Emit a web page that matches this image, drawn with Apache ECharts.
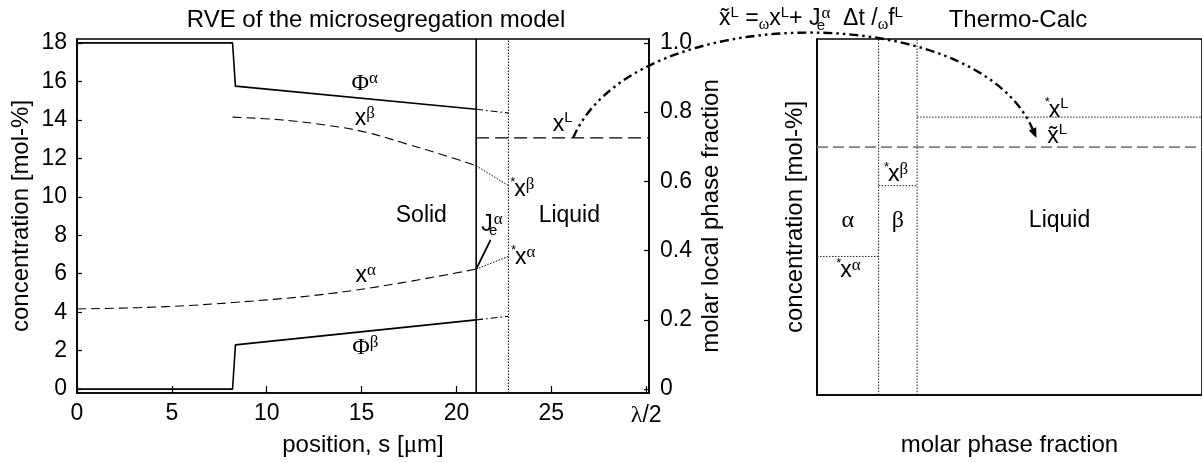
<!DOCTYPE html>
<html>
<head>
<meta charset="utf-8">
<script src="https://cdn.jsdelivr.net/npm/echarts@6/dist/echarts.min.js"></script>
<style>
  html, body { margin: 0; padding: 0; background: #fff; }
  #chart { width: 1202px; height: 463px; }
</style>
</head>
<body>
<div id="chart"></div>
<script>
// ---------- tick labels ----------
const positionTicks = [0, 5, 10, 15, 20, 25, 30];          // last tick is λ/2
const concentrationTicks = [0, 2, 4, 6, 8, 10, 12, 14, 16, 18];
const localFractionTicks = [0, 0.2, 0.4, 0.6, 0.8, 1.0];

// ---------- RVE of the microsegregation model: [position s in µm, concentration in mol-%] ----------
const positionMax = 30.15;               // half the dendrite arm spacing, λ/2
const concentrationRange = [-0.2, 18.2];
const fullScaleConcentration = 18;       // concentration that sits at local phase fraction 1.0
const solidLiquidInterface = 21.04;
const equilibriumPosition = 22.74;
const starXAlpha = 6.9;                  // *x^α
const starXBeta = 10.58;                 // *x^β
const starXLiquid = 14.14;               // *x^L
const xLiquid = 13.06;                   // x^L
const xLiquidTilde = 12.58;              // x̃^L

const phiAlpha = [[0, 18], [8.2, 18], [8.35, 15.75], [21.04, 14.55]];
const phiAlphaExtension = [[21.04, 14.55], [22.74, 14.35]];
const phiBeta = [[0, 0], [8.2, 0], [8.35, 2.3], [21.04, 3.6]];
const phiBetaExtension = [[21.04, 3.6], [22.74, 3.79]];
const xBeta = [[8.2, 14.14], [10.7, 14.0], [13.3, 13.7], [15.25, 13.35], [17.36, 12.75], [19.47, 12.12], [21.04, 11.61]];
const xBetaExtension = [[21.04, 11.61], [22.74, starXBeta]];
const xAlpha = [[0, 4.17], [4.7, 4.29], [10, 4.64], [13.5, 4.99], [17, 5.51], [21.04, 6.24]];
const xAlphaExtension = [[21.04, 6.24], [22.74, starXAlpha]];
const fluxLeader = [[21.04, 6.24], [21.8, 7.76]];

// ---------- Thermo-Calc equilibrium ----------
const phaseNames = ['α', 'β', 'Liquid'];
const phaseFractions = [0.16, 0.10, 0.74];
const phaseConcentrations = [starXAlpha, starXBeta, starXLiquid];
const tcConcentrationRange = [-0.3, 18.2];

// ---------- text styles ----------
const SANS = '"Liberation Sans", Arial, Helvetica, sans-serif';
const SERIF = '"Liberation Serif", "Times New Roman", serif';
const BLACK = '#000';
function tok(family, size, lh, extra) {
  return Object.assign({ fontFamily: family, fontSize: size, lineHeight: lh, color: BLACK,
    fontWeight: 'normal', textBorderWidth: 0 }, extra || {});
}
const rich = {
  t:    tok(SANS, 23, 28),
  g:    tok(SERIF, 24, 28),
  sp:   tok(SANS, 15, 16, { verticalAlign: 'top' }),
  gsp:  tok(SERIF, 17, 16, { verticalAlign: 'top' }),
  sb:   tok(SANS, 15, 14, { verticalAlign: 'bottom' }),
  sbz:  tok(SANS, 15, 14, { verticalAlign: 'bottom', width: 1 }),
  gsb:  tok(SERIF, 16, 14, { verticalAlign: 'bottom' }),
  star: tok(SANS, 13, 12, { verticalAlign: 'top', width: 3 })
};

// annotation texts in data coordinates
const rveLabels = [
  { at: [15.17, 15.87], text: '{g|Φ}{gsp|α}' },
  { at: [15.17, 14.05], text: '{t|x}{gsp|β}' },
  { at: [25.6, 13.74],  text: '{t|x}{sp|L}' },
  { at: [23.5, 10.36],  text: '{star|*}{t|x}{gsp|β}' },
  { at: [18.15, 9.0],   text: '{t|Solid}' },
  { at: [25.95, 9.0],   text: '{t|Liquid}' },
  { at: [21.87, 8.54],  text: '{t|J}{sbz|e}{gsp|α}' },
  { at: [23.55, 6.83],  text: '{star|*}{t|x}{gsp|α}' },
  { at: [15.22, 5.89],  text: '{t|x}{gsp|α}' },
  { at: [15.2, 2.15],   text: '{g|Φ}{gsp|β}' }
];

// Thermo-Calc column boundaries from the phase fractions
const boundaries = [];
phaseFractions.reduce((acc, f) => { boundaries.push([acc, acc + f]); return acc + f; }, 0);
const phaseLabelConcentration = 8.75;
const tcLabels = [
  { at: [(boundaries[0][0] + boundaries[0][1]) / 2, phaseLabelConcentration], text: '{g|' + phaseNames[0] + '}' },
  { at: [(boundaries[1][0] + boundaries[1][1]) / 2, phaseLabelConcentration], text: '{g|' + phaseNames[1] + '}' },
  { at: [(boundaries[2][0] + boundaries[2][1]) / 2, phaseLabelConcentration], text: '{t|' + phaseNames[2] + '}' },
  { at: [0.083, 6.15],  text: '{star|*}{t|x}{gsp|α}' },
  { at: [0.207, 11.14], text: '{star|*}{t|x}{gsp|β}' },
  { at: [0.624, 14.5],  text: '{star|*}{t|x}{sp|L}' },
  { at: [0.624, 13.15], text: '{t|x̃}{sp|L}' }
];

// arrow from x^L (RVE) to x̃^L (Thermo-Calc)
const arrowFrom = [26.15, xLiquid];
const arrowTo = [0.57, 13.05];

const axisLineStyle = { color: BLACK, width: 1.6 };

function line(data, opts) {
  return Object.assign({
    type: 'line', data: data, symbol: 'none', silent: true, animation: false,
    xAxisIndex: 0, yAxisIndex: 0
  }, opts);
}
function labelSeries(items, xi, yi) {
  return {
    type: 'scatter', xAxisIndex: xi, yAxisIndex: yi, symbolSize: 0, silent: true, animation: false,
    itemStyle: { color: 'rgba(0,0,0,0)', opacity: 1 },
    data: items.map(d => ({ value: d.at, text: d.text })),
    label: { show: true, position: 'inside', color: BLACK, opacity: 1, textBorderWidth: 0, fontWeight: 'normal',
      formatter: p => p.data.text, rich: rich }
  };
}

const chart = echarts.init(document.getElementById('chart'), null, { renderer: 'canvas' });

const option = {
  backgroundColor: '#fff',
  animation: false,
  title: [
    { text: 'RVE of the microsegregation model', left: 371, top: 3, textAlign: 'center',
      textStyle: { fontFamily: SANS, fontSize: 24, fontWeight: 'normal', color: BLACK } },
    { text: '{t|x̃}{sp|L}{t| =}{gsb|ω}{t|x}{sp|L}{t|+ J}{sbz|e}{gsp|α}{t|  Δt /}{gsb|ω}{t|f}{sp|L}',
      left: 806, top: 0, textAlign: 'center',
      textStyle: { fontFamily: SANS, fontSize: 23, fontWeight: 'normal', color: BLACK, rich: rich } },
    { text: 'Thermo-Calc', left: 1013, top: 3, textAlign: 'center',
      textStyle: { fontFamily: SANS, fontSize: 24, fontWeight: 'normal', color: BLACK } }
  ],
  grid: [
    { left: 77, top: 39, width: 572, height: 354, show: true, borderColor: BLACK, borderWidth: 1.6, backgroundColor: 'transparent' },
    { left: 817, top: 39, width: 387, height: 356, show: true, borderColor: BLACK, borderWidth: 1.6, backgroundColor: 'transparent' }
  ],
  xAxis: [
    {
      type: 'value', gridIndex: 0, min: 0, max: positionMax, position: 'bottom',
      axisLine: { show: true, onZero: false, lineStyle: axisLineStyle },
      axisTick: { show: true, inside: true, length: 7, customValues: positionTicks, lineStyle: { color: BLACK, width: 1.2 } },
      axisLabel: {
        customValues: positionTicks, margin: 9, fontFamily: SANS, fontSize: 23, color: BLACK,
        formatter: v => (v === 30 ? '{g|λ}/2' : String(v)), rich: rich
      },
      splitLine: { show: false },
      name: 'position, s [{g|μ}m]', nameLocation: 'middle', nameGap: 40,
      nameTextStyle: { fontFamily: SANS, fontSize: 24, color: BLACK, rich: { g: { fontFamily: SERIF, fontSize: 25, color: BLACK } } }
    },
    {
      type: 'value', gridIndex: 1, min: 0, max: 1, position: 'bottom',
      axisLine: { show: true, onZero: false, lineStyle: axisLineStyle },
      axisTick: { show: false }, axisLabel: { show: false }, splitLine: { show: false },
      name: 'molar phase fraction', nameLocation: 'middle', nameGap: 38,
      nameTextStyle: { fontFamily: SANS, fontSize: 24, color: BLACK }
    }
  ],
  yAxis: [
    {
      type: 'value', gridIndex: 0, min: concentrationRange[0], max: concentrationRange[1], position: 'left',
      axisLine: { show: true, onZero: false, lineStyle: axisLineStyle },
      axisTick: { show: true, inside: true, length: 5, customValues: concentrationTicks, lineStyle: { color: BLACK, width: 1.2 } },
      axisLabel: { customValues: concentrationTicks, margin: 10, fontFamily: SANS, fontSize: 23, color: BLACK },
      splitLine: { show: false },
      name: 'concentration [mol-%]', nameLocation: 'middle', nameGap: 44,
      nameTextStyle: { fontFamily: SANS, fontSize: 24, color: BLACK }
    },
    {
      type: 'value', gridIndex: 0, position: 'right',
      min: concentrationRange[0] / fullScaleConcentration, max: concentrationRange[1] / fullScaleConcentration,
      axisLine: { show: true, onZero: false, lineStyle: axisLineStyle },
      axisTick: { show: true, inside: true, length: 5, customValues: localFractionTicks, lineStyle: { color: BLACK, width: 1.2 } },
      axisLabel: { customValues: localFractionTicks, margin: 11, fontFamily: SANS, fontSize: 23, color: BLACK,
        formatter: v => (v === 0 ? '0' : v.toFixed(1)) },
      splitLine: { show: false },
      name: 'molar local phase fraction', nameLocation: 'middle', nameGap: 50,
      nameTextStyle: { fontFamily: SANS, fontSize: 24, color: BLACK }
    },
    {
      type: 'value', gridIndex: 1, min: tcConcentrationRange[0], max: tcConcentrationRange[1], position: 'left',
      axisLine: { show: true, onZero: false, lineStyle: axisLineStyle },
      axisTick: { show: false }, axisLabel: { show: false }, splitLine: { show: false },
      name: 'concentration [mol-%]', nameLocation: 'middle', nameGap: 10,
      nameTextStyle: { fontFamily: SANS, fontSize: 24, color: BLACK }
    }
  ],
  series: [
    // RVE profiles
    line(phiAlpha, { lineStyle: { color: BLACK, width: 1.6 } }),
    line(phiAlphaExtension, { lineStyle: { color: BLACK, width: 1.1, type: [7, 3, 1.5, 3] } }),
    line(phiBeta, { lineStyle: { color: BLACK, width: 1.6 } }),
    line(phiBetaExtension, { lineStyle: { color: BLACK, width: 1.1, type: [7, 3, 1.5, 3] } }),
    line(xBeta, { smooth: 0.4, lineStyle: { color: BLACK, width: 1.1, type: [9, 5] } }),
    line(xBetaExtension, { lineStyle: { color: BLACK, width: 1, type: [1.5, 1.5] } }),
    line(xAlpha, { smooth: 0.4, lineStyle: { color: BLACK, width: 1.1, type: [9, 5] } }),
    line(xAlphaExtension, { lineStyle: { color: BLACK, width: 1, type: [1.5, 1.5] } }),
    line([[solidLiquidInterface, xLiquid], [positionMax, xLiquid]], { lineStyle: { color: BLACK, width: 1.1, type: [13, 6] } }),
    line([[solidLiquidInterface, concentrationRange[0]], [solidLiquidInterface, concentrationRange[1]]], { lineStyle: { color: BLACK, width: 1.6 } }),
    line([[equilibriumPosition, concentrationRange[0]], [equilibriumPosition, concentrationRange[1]]], { lineStyle: { color: BLACK, width: 1, type: [1.5, 1.5] } }),
    line(fluxLeader, { lineStyle: { color: BLACK, width: 1.8 } }),
    labelSeries(rveLabels, 0, 0),

    // Thermo-Calc equilibrium
    ...boundaries.slice(0, 2).map(b => line([[b[1], tcConcentrationRange[0]], [b[1], tcConcentrationRange[1]]],
      { xAxisIndex: 1, yAxisIndex: 2, lineStyle: { color: '#222', width: 1, type: [1.5, 1.5] } })),
    ...boundaries.map((b, i) => line([[b[0], phaseConcentrations[i]], [b[1], phaseConcentrations[i]]],
      { xAxisIndex: 1, yAxisIndex: 2, lineStyle: { color: '#222', width: 1, type: [1.5, 1.5] } })),
    line([[0, xLiquidTilde], [1, xLiquidTilde]], { xAxisIndex: 1, yAxisIndex: 2, lineStyle: { color: '#808080', width: 1.6, type: [11, 5] } }),
    labelSeries(tcLabels, 1, 2)
  ]
};

chart.setOption(option);

// dash-dot-dot arrow linking x^L to x̃^L
function drawArrow() {
  const p0 = chart.convertToPixel({ gridIndex: 0 }, arrowFrom);
  const p3 = chart.convertToPixel({ gridIndex: 1 }, arrowTo);
  const c1 = [p0[0] + 60, p0[1] - 139];
  const c2 = [p3[0] - 60, p3[1] - 139];
  let dx = p3[0] - c2[0], dy = p3[1] - c2[1];
  const len = Math.hypot(dx, dy); dx /= len; dy /= len;
  const headLen = 10, headHalf = 4;
  const base = [p3[0] - dx * headLen, p3[1] - dy * headLen];
  chart.setOption({
    graphic: [
      { type: 'bezierCurve', silent: true, z: 100,
        shape: { x1: p0[0], y1: p0[1], cpx1: c1[0], cpy1: c1[1], cpx2: c2[0], cpy2: c2[1], x2: base[0], y2: base[1] },
        style: { stroke: BLACK, lineWidth: 2.4, fill: null, lineDash: [9, 4, 2.5, 4, 2.5, 4] } },
      { type: 'polygon', silent: true, z: 100,
        shape: { points: [p3, [base[0] - dy * headHalf, base[1] + dx * headHalf], [base[0] + dy * headHalf, base[1] - dx * headHalf]] },
        style: { fill: BLACK, stroke: null } }
    ]
  });
}
drawArrow();
</script>
</body>
</html>
